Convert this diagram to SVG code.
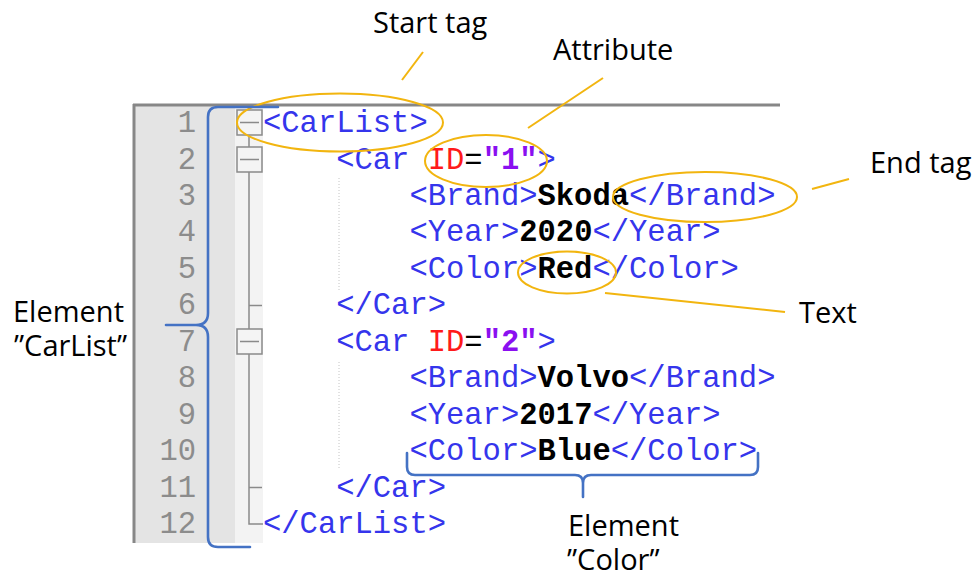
<svg xmlns="http://www.w3.org/2000/svg" width="973" height="576" viewBox="0 0 973 576">
<style>
.code{font-family:"Liberation Mono","Courier New",monospace;font-size:30.5px}
.ln{fill:#8c8c8c;text-anchor:end}
.tag{fill:#3535ec}
.an{fill:#ff1a1a}
.eq{fill:#000}
.av{fill:#8a10f0;font-weight:bold}
.tx{fill:#000;font-weight:bold}
.lbl{font-family:"Open Sans","Noto Sans","Liberation Sans",sans-serif;font-size:29px;fill:#000}
.ell{fill:none;stroke:#f2b50f;stroke-width:2}
.lead{stroke:#f2b50f;stroke-width:2;fill:none}
.brace{fill:none;stroke:#4472c4;stroke-width:2.6;stroke-linecap:round;stroke-linejoin:round}
.fold{fill:#f4f4f4;stroke:#8a8a8a;stroke-width:1.5}
.foldln{stroke:#8a8a8a;stroke-width:1.5;fill:none}
.guide{stroke:#c4c4c4;stroke-width:1;stroke-dasharray:1 2}
</style>
<rect width="973" height="576" fill="#fff"/>
<g id="editor">
<rect x="134" y="105" width="101" height="438" fill="#e4e4e4"/>
<rect x="235" y="105" width="28" height="438" fill="#f3f3f3"/>
<line x1="133" y1="105" x2="780" y2="105" stroke="#878787" stroke-width="3"/>
<line x1="134" y1="104" x2="134" y2="543" stroke="#878787" stroke-width="3"/>
<line class="guide" x1="339" y1="178" x2="339" y2="290"/>
<line class="guide" x1="339" y1="362" x2="339" y2="470"/>
<path class="foldln" d="M249,135 V524 H263 M249,305.5 H262 M249,487.5 H262"/>
<g id="fold1"><rect class="fold" x="237" y="110" width="25" height="25"/><line class="foldln" x1="240" y1="122.5" x2="259" y2="122.5"/></g>
<g id="fold2"><rect class="fold" x="237" y="147" width="25" height="25"/><line class="foldln" x1="240" y1="159.5" x2="259" y2="159.5"/></g>
<g id="fold7"><rect class="fold" x="237" y="329" width="25" height="25"/><line class="foldln" x1="240" y1="341.5" x2="259" y2="341.5"/></g>
<g class="code ln">
<text x="196" y="132">1</text>
<text x="196" y="168.5">2</text>
<text x="196" y="205">3</text>
<text x="196" y="241.4">4</text>
<text x="196" y="277.8">5</text>
<text x="196" y="314.3">6</text>
<text x="196" y="350.7">7</text>
<text x="196" y="387.2">8</text>
<text x="196" y="423.6">9</text>
<text x="196" y="460">10</text>
<text x="196" y="496.5">11</text>
<text x="196" y="533">12</text>
</g>
<g class="code">
<text x="263" y="132" class="tag">&lt;CarList&gt;</text>
<text x="336.2" y="168.5" xml:space="preserve"><tspan class="tag">&lt;Car </tspan><tspan class="an">ID</tspan><tspan class="eq">=</tspan><tspan class="av">"1"</tspan><tspan class="tag">&gt;</tspan></text>
<text x="409.4" y="205"><tspan class="tag">&lt;Brand&gt;</tspan><tspan class="tx">Skoda</tspan><tspan class="tag">&lt;/Brand&gt;</tspan></text>
<text x="409.4" y="241.4"><tspan class="tag">&lt;Year&gt;</tspan><tspan class="tx">2020</tspan><tspan class="tag">&lt;/Year&gt;</tspan></text>
<text x="409.4" y="277.8"><tspan class="tag">&lt;Color&gt;</tspan><tspan class="tx">Red</tspan><tspan class="tag">&lt;/Color&gt;</tspan></text>
<text x="336.2" y="314.3" class="tag">&lt;/Car&gt;</text>
<text x="336.2" y="350.7" xml:space="preserve"><tspan class="tag">&lt;Car </tspan><tspan class="an">ID</tspan><tspan class="eq">=</tspan><tspan class="av">"2"</tspan><tspan class="tag">&gt;</tspan></text>
<text x="409.4" y="387.2"><tspan class="tag">&lt;Brand&gt;</tspan><tspan class="tx">Volvo</tspan><tspan class="tag">&lt;/Brand&gt;</tspan></text>
<text x="409.4" y="423.6"><tspan class="tag">&lt;Year&gt;</tspan><tspan class="tx">2017</tspan><tspan class="tag">&lt;/Year&gt;</tspan></text>
<text x="409.4" y="460"><tspan class="tag">&lt;Color&gt;</tspan><tspan class="tx">Blue</tspan><tspan class="tag">&lt;/Color&gt;</tspan></text>
<text x="336.2" y="496.5" class="tag">&lt;/Car&gt;</text>
<text x="263" y="533" class="tag">&lt;/CarList&gt;</text>
</g>
</g>
<g id="highlights">
<ellipse id="ell-start" class="ell" cx="340" cy="122.5" rx="103" ry="29"/>
<ellipse id="ell-attr" class="ell" cx="486" cy="161" rx="61" ry="26"/>
<ellipse id="ell-end" class="ell" cx="705" cy="197" rx="92" ry="25"/>
<ellipse id="ell-text" class="ell" cx="567" cy="272.5" rx="49" ry="21"/>
</g>
<g id="connectors">
<line class="lead" x1="423" y1="52" x2="402" y2="80"/>
<line class="lead" x1="603" y1="78" x2="528" y2="128"/>
<line class="lead" x1="812" y1="189" x2="849" y2="179"/>
<line class="lead" x1="605" y1="293" x2="785" y2="312"/>
<path class="brace" d="M278,107 L218,107 Q208,107 208,117 L208,313 Q208,325 196,325 L166,325 M196,325 Q208,325 208,337 L208,537 Q208,547 218,547 L250,547"/>
<path class="brace" d="M407,453 L407,467 Q407,475 415,475 L575,475 Q583,475 583,483 L583,497 M583,483 Q583,475 591,475 L750,475 Q758,475 758,467 L758,453"/>
</g>
<g id="label-start"><text class="lbl" x="373" y="33">Start tag</text></g>
<g id="label-attr"><text class="lbl" x="553" y="60">Attribute</text></g>
<g id="label-end"><text class="lbl" x="870" y="173">End tag</text></g>
<g id="label-text"><text class="lbl" x="799" y="323">Text</text></g>
<g id="label-carlist"><text class="lbl" x="13" y="322">Element</text><text class="lbl" x="14" y="356">”CarList”</text></g>
<g id="label-color"><text class="lbl" x="568" y="536">Element</text><text class="lbl" x="567" y="570">”Color”</text></g>
</svg>
